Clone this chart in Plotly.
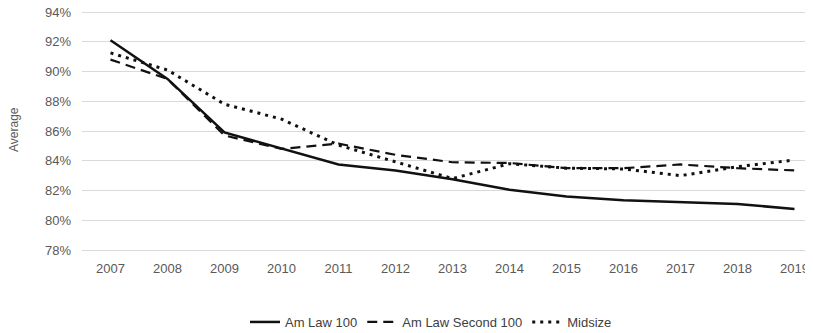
import plotly.graph_objects as go

years = [2007, 2008, 2009, 2010, 2011, 2012, 2013, 2014, 2015, 2016, 2017, 2018, 2019]
am_law_100 = [92.1, 89.5, 85.9, 84.85, 83.75, 83.35, 82.75, 82.05, 81.6, 81.35, 81.2, 81.1, 80.75]
am_law_second_100 = [90.8, 89.5, 85.7, 84.8, 85.15, 84.4, 83.9, 83.85, 83.5, 83.5, 83.75, 83.5, 83.35]
midsize = [91.25, 90.1, 87.8, 86.8, 85.05, 83.9, 82.8, 83.8, 83.5, 83.45, 83.0, 83.6, 84.05]
y_ticks = [78, 80, 82, 84, 86, 88, 90, 92, 94]

fig = go.Figure()
fig.add_trace(go.Scatter(x=years, y=am_law_100, mode="lines", name="Am Law 100",
                         line=dict(color="#111111", width=2.5)))
fig.add_trace(go.Scatter(x=years, y=am_law_second_100, mode="lines", name="Am Law Second 100",
                         line=dict(color="#111111", width=2.2, dash="10px,6px")))
fig.add_trace(go.Scatter(x=years, y=midsize, mode="lines", name="Midsize",
                         line=dict(color="#111111", width=3, dash="3px,5px")))

fig.update_layout(
    width=813, height=333,
    margin=dict(l=74, r=8, t=2, b=91, autoexpand=False),
    paper_bgcolor="white", plot_bgcolor="white",
    font=dict(family="Liberation Sans, Arial, sans-serif", size=13, color="#595959"),
    showlegend=True,
    legend=dict(orientation="h", x=(245 - 82) / 731, xanchor="left", y=-0.3, yanchor="middle",
                font=dict(size=13, color="#404040"), itemwidth=30, tracegroupgap=0),
    xaxis=dict(range=[2006.5, 2019.325], tickvals=years, ticktext=[str(y) for y in years],
               showgrid=False, zeroline=False, showline=True, linecolor="#d9d9d9",
               linewidth=1, ticks="", automargin=False, ticklabelstandoff=6,
               ticklabeloverflow="allow",
               tickfont=dict(size=13, color="#595959")),
    yaxis=dict(range=[78, 94.1345], tickvals=y_ticks, ticktext=[f"{v}%" for v in y_ticks],
               showgrid=True, gridcolor="#d9d9d9", gridwidth=1, zeroline=False,
               ticks="", automargin=False, ticklabelstandoff=10,
               ticklabeloverflow="allow",
               tickfont=dict(size=13, color="#595959")),
    annotations=[dict(text="Average", xref="paper", yref="paper",
                      x=(6 - 74) / 731, y=0.5, xanchor="center", yanchor="middle",
                      textangle=-90, showarrow=False,
                      font=dict(size=12, color="#595959"))],
)
fig.write_html("out.html")
